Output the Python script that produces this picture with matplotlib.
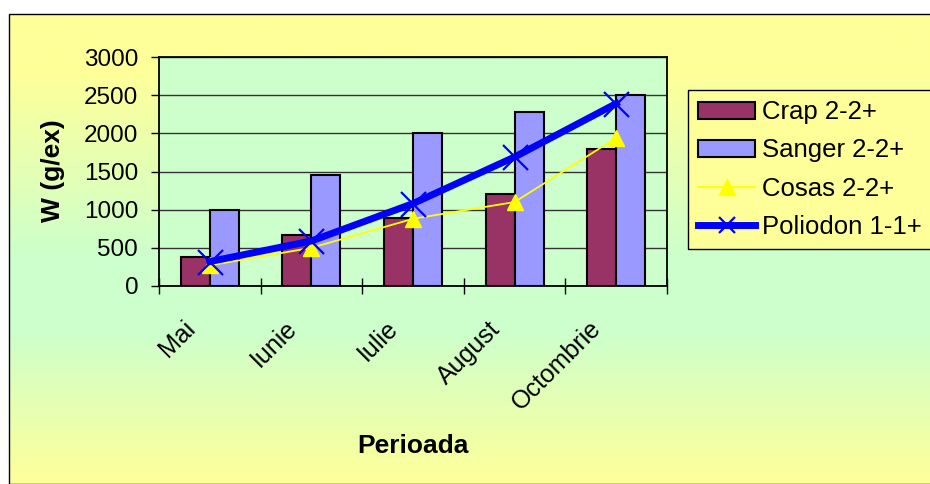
import numpy as np
import matplotlib
matplotlib.use("Agg")
import matplotlib.pyplot as plt
import matplotlib.transforms as mtransforms
from matplotlib.colors import LinearSegmentedColormap
from matplotlib.patches import Rectangle
from matplotlib.lines import Line2D

plt.rcParams['font.family'] = ['Liberation Sans', 'DejaVu Sans']

# Greutatea medie pe perioade (g/ex)
months = ['Mai', 'Iunie', 'Iulie', 'August', 'Octombrie']
crap = [380, 670, 890, 1200, 1790]
sanger = [1000, 1450, 2000, 2280, 2500]
cosas = [270, 500, 880, 1100, 1940]
poliodon = [320, 590, 1080, 1690, 2390]

W, H = 930, 484
FS = 17.5
yellow = '#FFFF99'
green = '#CCFFCC'

fig = plt.figure(figsize=(W / 100, H / 100), dpi=100)

# chart area: yellow -> green -> yellow vertical fill
bg = fig.add_axes([9 / W, 0, 1 - 9 / W, 1 - 14 / H])
bg.set_axis_off()
cmap = LinearSegmentedColormap.from_list(
    'chart_bg', [(0, yellow), (0.12, yellow), (0.52, green), (0.67, green), (1, yellow)])
bg.imshow(np.linspace(0, 1, 256).reshape(-1, 1), aspect='auto', cmap=cmap,
          extent=[0, 1, 0, 1], origin='upper')
fig.patches.append(Rectangle((9 / W, 0), 1, 1 - 14 / H, transform=fig.transFigure,
                             fill=False, ec='black', lw=1))

ax = fig.add_axes([159 / W, 1 - 286 / H, (667 - 159) / W, (286 - 57) / H])
ax.set_facecolor(green)

x = np.arange(len(months))
bw = 0.286
b1 = ax.bar(x - bw / 2, crap, bw, color='#993366', edgecolor='black', lw=1.5,
            label='Crap 2-2+', zorder=2)
b2 = ax.bar(x + bw / 2, sanger, bw, color='#9999FF', edgecolor='black', lw=1.5,
            label='Sanger 2-2+', zorder=2)
ax.plot(x, cosas, color='#FFFF00', lw=1.3, marker='^', ms=12, mec='#FFFF00', zorder=3)
ax.plot(x, poliodon, color='#0000FF', lw=5, marker='x', ms=18, mew=1.6, zorder=4)

ax.set_xlim(-0.5, len(months) - 0.5)
ax.set_ylim(0, 3000)
ax.set_yticks(range(0, 3001, 500))
ax.yaxis.grid(True, color='#333333', lw=1)
ax.set_axisbelow(True)
for s in ax.spines.values():
    s.set_linewidth(1.3)

ax.set_xticks(np.arange(-0.5, len(months)), labels=[])
ax.set_xticks(x, labels=months, minor=True)
ax.tick_params(axis='x', which='major', direction='inout', length=11, width=1)
ax.tick_params(axis='x', which='minor', length=0, pad=22, labelsize=18)
ax.tick_params(axis='y', direction='out', length=6, width=1, pad=9, labelsize=FS)
shift = mtransforms.ScaledTranslation(-0.10, 0, fig.dpi_scale_trans)
for lbl in ax.get_xticklabels(minor=True):
    lbl.set_rotation(45)
    lbl.set_ha('right')
    lbl.set_va('top')
    lbl.set_transform(lbl.get_transform() + shift)

fig.text(53 / W, 1 - 171 / H, 'W (g/ex)', rotation=90, ha='center', va='center',
         fontsize=19, fontweight='bold')
fig.text(413 / W, 1 - 446 / H, 'Perioada', ha='center', va='center',
         fontsize=19, fontweight='bold')

# legend keys: smaller markers than on the plot
h_cosas = Line2D([], [], color='#FFFF00', lw=1.3, marker='^', ms=12, mec='#FFFF00')
h_pol = Line2D([], [], color='#0000FF', lw=5, marker='x', ms=11, mew=1.6)
leg = fig.legend([b1, b2, h_cosas, h_pol],
                 ['Crap 2-2+', 'Sanger 2-2+', 'Cosas 2-2+', 'Poliodon 1-1+'],
                 loc='upper left', bbox_to_anchor=(688 / W, 1 - 90 / H),
                 bbox_transform=fig.transFigure, fontsize=18.5, frameon=True,
                 fancybox=False, framealpha=1, facecolor=yellow, edgecolor='black',
                 borderaxespad=0, borderpad=0.4, handlelength=2.2, handleheight=0.66,
                 labelspacing=0.55, handletextpad=0.28)
leg.get_frame().set_linewidth(1)

fig.savefig('out.png', dpi=100, facecolor='white')
